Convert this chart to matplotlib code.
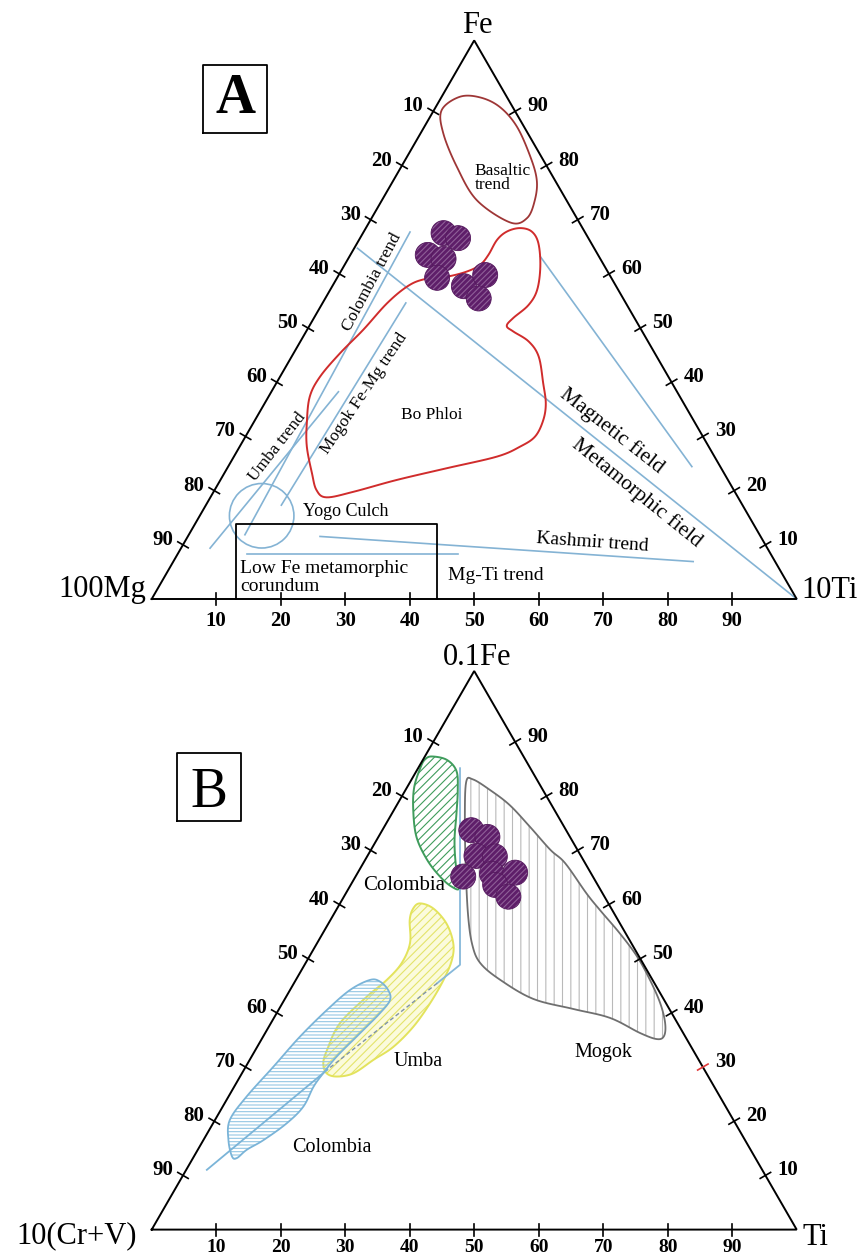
import numpy as np
import matplotlib
matplotlib.use("Agg")
import matplotlib.pyplot as plt
from matplotlib.patches import Polygon, Circle

plt.rcParams['font.family'] = ['Liberation Serif', 'DejaVu Serif']
plt.rcParams['hatch.linewidth'] = 0.8

# ---------------------------------------------------------------------------
# Data: ternary coordinates given as (bottom-axis component, apex component)
# ---------------------------------------------------------------------------
tick_values = [10, 20, 30, 40, 50, 60, 70, 80, 90]

# Panel A : Fe - 100Mg - 10Ti
basaltic_ti = [2.8, 1.2, 3.5, 8.6, 14.7, 21.9, 24.1, 23.7, 22.2, 19.1, 14.3, 9.9, 6.0]
basaltic_fe = [89.9, 87.5, 83.4, 77.4, 71.4, 67.4, 68.2, 71.4, 75.0, 79.2, 84.6, 88.1, 89.8]

bophloi_ti = [6.4, 6.2, 7.2, 8.7, 10.0, 11.6, 13.5, 16.9, 19.5, 21.0, 21.4, 21.4, 22.2,
              23.9, 26.0, 28.1, 30.5, 32.1, 32.1, 30.9, 30.6, 32.1, 35.4, 38.3, 41.4,
              43.6, 44.7, 44.9, 43.5, 40.8, 34.0, 27.3, 21.7, 18.0, 15.8, 13.6, 10.4, 8.3]
bophloi_fe = [36.2, 39.8, 44.0, 48.2, 52.9, 55.9, 57.2, 57.7, 58.6, 59.8, 61.6, 64.3, 65.8,
              66.4, 65.8, 63.7, 59.5, 55.3, 52.6, 50.3, 48.9, 47.9, 46.1, 43.4, 38.6,
              35.0, 32.0, 29.1, 27.3, 25.5, 23.4, 21.3, 19.2, 18.2, 19.5, 22.5, 27.3, 31.5]

samples_a_ti = [12.5, 15.2, 12.0, 14.8, 15.5, 20.4, 22.7, 23.8]
samples_a_fe = [65.5, 64.6, 61.6, 60.9, 57.5, 56.0, 58.0, 53.8]

colombia_trend = [(7.2, 65.7), (8.7, 11.5)]
umba_trend = [(10.4, 37.1), (4.5, 9.1)]
mogok_trend = [(12.9, 53.0), (11.7, 16.8)]
metamorphic_line = [(0.5, 62.8), (100.0, 0.0)]
magnetic_line = [(29.6, 61.3), (71.9, 23.7)]
kashmir_trend = [(20.5, 11.2), (80.6, 6.7)]
mgti_trend = [(10.7, 8.1), (43.5, 8.1)]

yogo_center = (9.6, 14.9)
yogo_radius = 5.0

lowfe_ti = [13.1, 44.3]   # where the box sides meet the base
lowfe_fe_top = 13.5

# Panel B : 0.1Fe - 10(Cr+V) - Ti
samples_b_ti = [13.8, 16.9, 16.9, 19.8, 16.7, 20.9, 24.4, 22.4, 25.5]
samples_b_fe = [71.5, 70.3, 66.9, 66.8, 63.2, 63.7, 63.9, 61.7, 59.6]

colombia_up_ti = [1.1, 3.7, 6.2, 8.1, 10.0, 12.1, 14.5, 17.1, 15.8, 13.1, 9.6, 5.9, 3.0, 1.1, 0.3, 0.3]
colombia_up_fe = [84.7, 84.1, 82.1, 78.7, 74.5, 69.7, 65.3, 61.2, 61.4, 63.2, 66.2, 70.3, 75.1, 79.2, 82.8, 84.2]

mogok_ti = [8.7, 9.5, 13.1, 17.5, 22.6, 27.8, 31.3, 37.3, 40.9, 46.1, 50.8, 54.9, 58.6,
            61.1, 62.1, 61.3, 58.1, 52.1, 45.6, 38.5, 31.7, 27.1, 24.2, 20.9, 16.5, 11.9]
mogok_fe = [80.1, 80.6, 78.7, 76.0, 72.1, 68.0, 65.6, 60.2, 57.2, 53.0, 48.9, 44.7, 40.5,
            37.0, 34.7, 34.1, 35.2, 37.9, 39.5, 41.3, 44.7, 47.7, 51.0, 56.3, 64.4, 73.3]

umba_ti = [12.4, 14.9, 18.3, 21.1, 22.4, 22.9, 22.9, 22.4, 21.1, 19.2, 17.3, 15.0, 13.1,
           11.7, 11.1, 10.7, 12.5, 14.1, 14.9, 14.4, 12.3, 11.8]
umba_fe = [58.4, 57.5, 54.8, 51.3, 48.3, 44.7, 40.5, 36.3, 32.7, 30.4, 28.0, 27.4, 28.0,
           29.8, 32.2, 36.9, 41.7, 44.7, 47.7, 51.3, 55.4, 57.5]

colombia_low_ti = [11.5, 13.2, 15.2, 16.4, 16.0, 14.7, 13.2, 12.6, 12.3, 12.5, 11.4, 9.3,
                   7.6, 6.8, 5.9, 3.9, 2.3, 2.8, 4.3, 5.7, 7.5, 9.3]
colombia_low_fe = [44.7, 44.4, 42.9, 41.1, 38.7, 35.1, 31.0, 28.0, 25.6, 22.0, 19.0, 16.0,
                   14.3, 12.8, 13.1, 16.0, 19.6, 23.8, 29.2, 34.5, 39.3, 42.9]

trend_b_ti = [6.5, 24.1, 22.2, 12.9, 3.2]
trend_b_fe = [82.6, 47.4, 44.1, 28.6, 10.7]

# ---------------------------------------------------------------------------
SQ3 = np.sqrt(3) / 2
SCALE = 6.45          # pixels per ternary unit
SIDE_SCALE = 0.97     # spacing of the graduations on the two inclined sides


def tern(a, b):
    a = np.asarray(a, float)
    b = np.asarray(b, float)
    return a + b / 2.0, b * SQ3


def smooth_closed(a, b, n=14):
    x, y = tern(a, b)
    P = np.column_stack([x, y])
    m = len(P)
    t = np.linspace(0, 1, n, endpoint=False)[:, None]
    out = []
    for i in range(m):
        p0, p1, p2, p3 = P[(i - 1) % m], P[i], P[(i + 1) % m], P[(i + 2) % m]
        out.append(0.5 * (2 * p1 + (-p0 + p2) * t + (2 * p0 - 5 * p1 + 4 * p2 - p3) * t ** 2
                          + (-p0 + 3 * p1 - 3 * p2 + p3) * t ** 3))
    return np.vstack(out)


W, H = 859, 1257
fig = plt.figure(figsize=(W / 100, H / 100), dpi=100)


def make_axes(top_px, bot_px, x0_px, base_px):
    ax = fig.add_axes([0, 1 - bot_px / H, 1, (bot_px - top_px) / H])
    ax.set_xlim(-x0_px / SCALE, (W - x0_px) / SCALE)
    ax.set_ylim((base_px - bot_px) / SCALE, (base_px - top_px) / SCALE)
    ax.axis('off')
    return ax


axA = make_axes(0, 630, 151.7, 599.0)
axB = make_axes(630, 1257, 151.7, 1229.6)


def frame(ax, base_label_drop, base_label_size, red_right=()):
    cx, cy = tern([0, 100, 0, 0], [0, 0, 100, 0])
    ax.plot(cx, cy, color='black', lw=1.4, solid_joinstyle='miter', zorder=6, clip_on=False)
    L = 6.0 / SCALE
    nl = np.array([0.866, -0.5])
    nr = np.array([0.866, 0.5])
    for v in tick_values:
        # base
        x, y = tern(v, 0)
        ax.plot([x, x], [y - L, y + L], color='black', lw=1.2, zorder=6)
        ax.text(x, y - base_label_drop / SCALE, str(v), ha='center', va='baseline',
                fontsize=base_label_size, fontweight='bold', zorder=7)
        # left side
        b = SIDE_SCALE * (100 - v)
        x, y = tern(0, b)
        ax.plot([x - L * nl[0], x + L * nl[0]], [y - L * nl[1], y + L * nl[1]],
                color='black', lw=1.2, zorder=6)
        ax.text(x - 10 / SCALE, y, str(v), ha='right', va='baseline', fontsize=15,
                fontweight='bold', zorder=7)
        # right side
        b = SIDE_SCALE * v
        x, y = tern(100 - b, b)
        col = '#e03a3a' if v in red_right else 'black'
        ax.plot([x - L * nr[0], x + L * nr[0]], [y - L * nr[1], y + L * nr[1]],
                color=col, lw=1.2, zorder=6)
        ax.text(x + 12 / SCALE, y, str(v), ha='left', va='baseline', fontsize=15,
                fontweight='bold', zorder=7)


def seg(ax, pts, **kw):
    a = [p[0] for p in pts]
    b = [p[1] for p in pts]
    x, y = tern(a, b)
    ax.plot(x, y, **kw)


def dots(ax, ti, fe):
    xs, ys = tern(ti, fe)
    r = 12.5 / SCALE
    for x, y in zip(xs, ys):
        ax.add_patch(Circle((x, y), r, facecolor='#5e1e69', edgecolor='#8f5f98',
                            lw=0, hatch='//////', zorder=8))
        ax.add_patch(Circle((x, y), r, facecolor='none', edgecolor='#55195e',
                            lw=0.6, zorder=8))


BLUE = '#84b3d4'

# ----------------------------- Panel A -------------------------------------
frame(axA, 27.5, 15)
axA.add_patch(Polygon(smooth_closed(basaltic_ti, basaltic_fe), closed=True,
                      facecolor='none', edgecolor='#9e3636', lw=1.3, zorder=3))
axA.add_patch(Polygon(smooth_closed(bophloi_ti, bophloi_fe, 8), closed=True,
                      facecolor='none', edgecolor='#d02c2c', lw=1.4, zorder=3))
for pts in (colombia_trend, umba_trend, mogok_trend, metamorphic_line,
            magnetic_line, kashmir_trend, mgti_trend):
    seg(axA, pts, color=BLUE, lw=1.2, zorder=2)
axA.add_patch(Circle(tern(*yogo_center), yogo_radius, facecolor='none',
                     edgecolor=BLUE, lw=1.2, zorder=2))
bx0, _ = tern(lowfe_ti[0], 0)
bx1, _ = tern(lowfe_ti[1], 0)
_, btop = tern(0, lowfe_fe_top)
axA.plot([bx0, bx0, bx1, bx1], [0, btop, btop, 0], color='black', lw=1.3, zorder=4)
dots(axA, samples_a_ti, samples_a_fe)

serif = dict(zorder=9)
axA.text(50.1, 65.3, 'Basaltic\ntrend', ha='left', va='center', fontsize=12.5,
         linespacing=0.85, **serif)
axA.text(34.1, 49.2, 'Colombia trend', ha='center', va='center', rotation=62,
         rotation_mode='anchor', fontsize=12.5, **serif)
axA.text(32.9, 31.9, 'Mogok Fe-Mg trend', ha='center', va='center', rotation=56,
         rotation_mode='anchor', fontsize=12.5, **serif)
axA.text(19.4, 23.5, 'Umba trend', ha='center', va='center', rotation=52,
         rotation_mode='anchor', fontsize=12.5, **serif)
axA.text(43.4, 28.5, 'Bo Phloi', ha='center', va='center', fontsize=12.5, **serif)
axA.text(30.05, 13.6, 'Yogo Culch', ha='center', va='center', fontsize=13, **serif)
axA.text(13.7, 3.98, 'Low Fe metamorphic', ha='left', va='baseline', fontsize=14, **serif)
axA.text(13.7, 1.24, 'corundum', ha='left', va='baseline', fontsize=14, **serif)
axA.text(46.0, 2.95, 'Mg-Ti trend', ha='left', va='baseline', fontsize=14, **serif)
axA.text(68.3, 8.7, 'Kashmir trend', ha='center', va='center', rotation=-4,
         rotation_mode='anchor', fontsize=14, **serif)
axA.text(71.3, 26.1, 'Magnetic field', ha='center', va='center', rotation=-38,
         rotation_mode='anchor', fontsize=15.5, **serif)
axA.text(75.2, 16.4, 'Metamorphic field', ha='center', va='center', rotation=-39,
         rotation_mode='anchor', fontsize=15.5, **serif)

axA.text(50.5, 87.7, 'Fe', ha='center', va='baseline', fontsize=22, **serif)
axA.text(-0.8, 0.3, '100Mg', ha='right', va='baseline', fontsize=22, **serif)
axA.text(100.8, 0.1, '10Ti', ha='left', va='baseline', fontsize=22, **serif)

axA.plot([8.0, 17.92, 17.92, 8.0, 8.0], [72.3, 72.3, 82.79, 82.79, 72.3], color='black',
         lw=1.3, zorder=9)
axA.text(12.96, 75.3, 'A', ha='center', va='baseline', fontsize=40, fontweight='bold', **serif)

# ----------------------------- Panel B -------------------------------------
frame(axB, 22.5, 14, red_right=(30,))

mog = smooth_closed(mogok_ti, mogok_fe, 8)
axB.add_patch(Polygon(mog, closed=True, facecolor='white', edgecolor='#b9b9b9',
                      lw=0, hatch='||', zorder=2))
axB.add_patch(Polygon(mog, closed=True, facecolor='none', edgecolor='#6f6f6f',
                      lw=1.3, zorder=3))

grn = smooth_closed(colombia_up_ti, colombia_up_fe, 8)
axB.add_patch(Polygon(grn, closed=True, facecolor='white', edgecolor='#3f9c5c',
                      lw=1.4, hatch='////', zorder=3))

umb = smooth_closed(umba_ti, umba_fe, 8)
axB.add_patch(Polygon(umb, closed=True, facecolor='#fbfbdc', edgecolor='#e4e46a',
                      lw=0, hatch='////', zorder=2))
axB.add_patch(Polygon(umb, closed=True, facecolor='none', edgecolor='#e3e35c',
                      lw=1.4, zorder=3))

clb = smooth_closed(colombia_low_ti, colombia_low_fe, 8)
axB.add_patch(Polygon(clb, closed=True, facecolor='none', edgecolor='#94c6e4',
                      lw=0, hatch='-----', zorder=3))
axB.add_patch(Polygon(clb, closed=True, facecolor='none', edgecolor='#7ab4d8',
                      lw=1.3, zorder=3))

tx, ty = tern(trend_b_ti, trend_b_fe)
axB.plot(tx[:3], ty[:3], color='#86b8da', lw=1.3, zorder=4)
axB.plot(tx[2:4], ty[2:4], color='#7f93a8', lw=1.0, ls=(0, (3, 2)), zorder=4)
axB.plot(tx[3:], ty[3:], color='#7ab4d8', lw=1.3, zorder=4)

dots(axB, samples_b_ti, samples_b_fe)

axB.text(39.1, 53.4, 'Colombia', ha='center', va='center', fontsize=15, **serif)
axB.text(41.3, 26.1, 'Umba', ha='center', va='center', fontsize=14.5, **serif)
axB.text(28.0, 12.7, 'Colombia', ha='center', va='center', fontsize=14.5, **serif)
axB.text(70.1, 27.4, 'Mogok', ha='center', va='center', fontsize=14.5, **serif)

axB.text(50.5, 87.5, '0.1Fe', ha='center', va='baseline', fontsize=22, **serif)
axB.text(-2.3, -2.1, '10(Cr+V)', ha='right', va='baseline', fontsize=22, **serif)
axB.text(100.9, -2.4, 'Ti', ha='left', va='baseline', fontsize=22, **serif)

axB.plot([3.88, 13.89, 13.89, 3.88, 3.88], [63.35, 63.35, 73.84, 73.84, 63.35],
         color='black', lw=1.3, zorder=9)
axB.text(8.88, 65.57, 'B', ha='center', va='baseline', fontsize=40, **serif)

fig.savefig('out.png', dpi=100)
